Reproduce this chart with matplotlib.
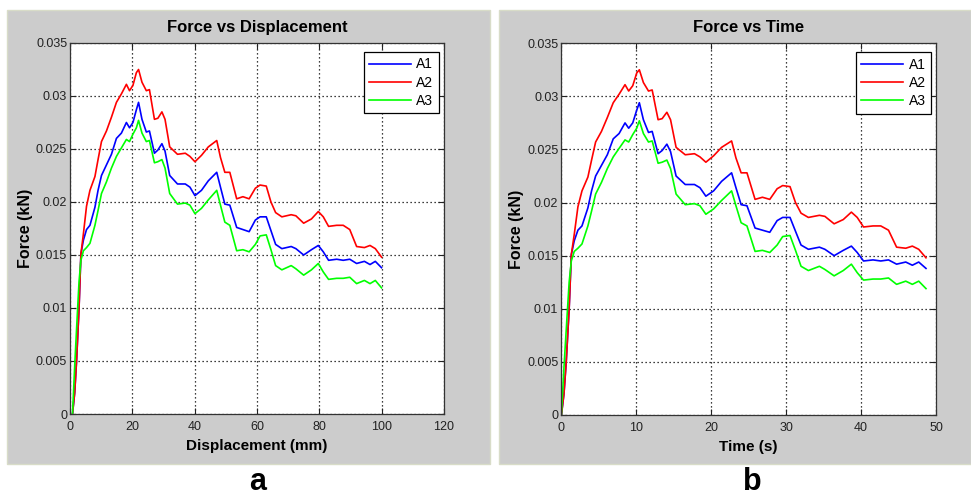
import matplotlib
matplotlib.use("Agg")
import matplotlib.pyplot as plt
from matplotlib.patches import Rectangle

DISP_MM = [0.8, 1.5, 2.1, 2.9, 3.5, 4.3, 5.3, 6.4, 8.0, 9.0, 10.1, 11.7, 13.3,
           14.9, 16.5, 18.1, 19.1, 20.2, 21.3, 22.0, 23.1, 24.5, 25.5, 27.1,
           28.2, 29.5, 30.5, 32.0, 34.5, 37.0, 38.5, 40.1, 42.2, 44.4, 47.1,
           48.3, 49.7, 51.3, 53.5, 55.5, 57.5, 59.5, 61.0, 63.0, 64.5, 66.0,
           68.0, 71.0, 72.5, 75.0, 77.5, 79.7, 81.3, 83.0, 85.6, 87.7, 89.8,
           92.0, 94.5, 96.3, 98.0, 100.0]
TIME_S = [0.05, 0.39, 0.69, 1.08, 1.37, 1.76, 2.25, 2.79, 3.58, 4.07, 4.61,
          5.39, 6.17, 6.96, 7.74, 8.53, 9.02, 9.56, 10.09, 10.44, 10.98,
          11.66, 12.15, 12.94, 13.48, 14.11, 14.60, 15.34, 16.56, 17.79,
          18.52, 19.31, 20.34, 21.41, 22.74, 23.32, 24.01, 24.79, 25.87,
          26.85, 27.83, 28.81, 29.55, 30.53, 31.26, 32.00, 32.98, 34.45,
          35.18, 36.41, 37.63, 38.71, 39.49, 40.33, 41.60, 42.63, 43.66,
          44.74, 45.96, 46.84, 47.69, 48.66]

A1 = [0, 0.002, 0.005, 0.010, 0.0151, 0.0164, 0.0174, 0.0178, 0.0195, 0.0211,
      0.0225, 0.0235, 0.0245, 0.0260, 0.0265, 0.0275, 0.0270, 0.0275, 0.0287,
      0.0294, 0.0278, 0.0266, 0.0267, 0.0246, 0.0249, 0.0255, 0.0248, 0.0225,
      0.0217, 0.0217, 0.0214, 0.0206, 0.0211, 0.0220, 0.0228, 0.0214, 0.0198,
      0.0197, 0.0176, 0.0174, 0.0172, 0.0183, 0.0186, 0.0186, 0.0173, 0.0160,
      0.0156, 0.0158, 0.0156, 0.0150, 0.0155, 0.0159, 0.0153, 0.0145, 0.0146,
      0.0145, 0.0146, 0.0142, 0.0144, 0.0141, 0.0144, 0.0138]
A2 = [0, 0.002, 0.005, 0.010, 0.0151, 0.0170, 0.0196, 0.0211, 0.0224, 0.0240,
      0.0257, 0.0267, 0.0280, 0.0294, 0.0302, 0.0311, 0.0305, 0.0310, 0.0322,
      0.0325, 0.0313, 0.0305, 0.0306, 0.0278, 0.0279, 0.0285, 0.0278, 0.0252,
      0.0245, 0.0246, 0.0243, 0.0238, 0.0244, 0.0252, 0.0258, 0.0242, 0.0228,
      0.0228, 0.0203, 0.0205, 0.0203, 0.0213, 0.0216, 0.0215, 0.0200, 0.0190,
      0.0186, 0.0188, 0.0187, 0.0180, 0.0184, 0.0191, 0.0186, 0.0177, 0.0178,
      0.0178, 0.0174, 0.0158, 0.0157, 0.0159, 0.0156, 0.0148]
A3 = [0, 0.0045, 0.008, 0.0125, 0.0145, 0.0154, 0.0157, 0.0161, 0.0178, 0.0192,
      0.0208, 0.0219, 0.0232, 0.0243, 0.0251, 0.0259, 0.0257, 0.0264, 0.0270,
      0.0277, 0.0265, 0.0257, 0.0258, 0.0237, 0.0238, 0.0240, 0.0232, 0.0208,
      0.0198, 0.0199, 0.0197, 0.0189, 0.0194, 0.0202, 0.0211, 0.0197, 0.0181,
      0.0178, 0.0154, 0.0155, 0.0153, 0.0160, 0.0168, 0.0169, 0.0155, 0.0140,
      0.0136, 0.0140, 0.0137, 0.0131, 0.0136, 0.0142, 0.0134, 0.0127, 0.0128,
      0.0128, 0.0129, 0.0123, 0.0126, 0.0123, 0.0126, 0.0119]

SERIES = ["A1", "A2", "A3"]
COLORS = ["#0000ff", "#ff0000", "#00ff00"]

YTICKS = [0, 0.005, 0.01, 0.015, 0.02, 0.025, 0.03, 0.035]
YTICK_LABELS = ["0", "0.005", "0.01", "0.015", "0.02", "0.025", "0.03", "0.035"]
XTICKS_A = [0, 20, 40, 60, 80, 100, 120]
XTICKS_B = [0, 10, 20, 30, 40, 50]

plt.rcParams["font.family"] = ["Liberation Sans", "DejaVu Sans"]

fig = plt.figure(figsize=(9.71, 4.97), dpi=100, facecolor="white")

# grey MATLAB-style figure panels, kept behind the axes
fig.patches.append(Rectangle((0.0072, 0.066), 0.4974, 0.914, transform=fig.transFigure,
                             facecolor="#cccccc", edgecolor="#d8dcc8", lw=1, zorder=-5))
fig.patches.append(Rectangle((0.514, 0.066), 0.486, 0.914, transform=fig.transFigure,
                             facecolor="#cccccc", edgecolor="#d8dcc8", lw=1, zorder=-5))

ax_a = fig.add_axes([0.0721, 0.167, 0.385, 0.7465])
ax_b = fig.add_axes([0.5778, 0.165, 0.3862, 0.748])


def style_axes(ax, xs, xticks, title, xlabel):
    for name, ys, c in zip(SERIES, [A1, A2, A3], COLORS):
        ax.plot(xs, ys, color=c, lw=1.2, label=name)
    ax.set_xlim(xticks[0], xticks[-1])
    ax.set_ylim(0, 0.035)
    ax.set_xticks(xticks)
    ax.set_yticks(YTICKS)
    ax.set_yticklabels(YTICK_LABELS)
    ax.grid(True, color="black", linestyle=(0, (1, 2.2)), lw=0.9)
    ax.tick_params(direction="in", length=4, width=0.8, top=True, right=True,
                   labelsize=9, colors="#222222")
    ax.tick_params(axis="x", pad=5)
    ax.tick_params(axis="y", pad=2)
    for s in ax.spines.values():
        s.set_color("#333333")
        s.set_linewidth(0.9)
    ax.set_title(title, fontsize=12, fontweight="bold", pad=8)
    ax.set_xlabel(xlabel, fontsize=11, fontweight="bold")
    ax.xaxis.set_label_coords(0.5, -0.068)
    ax.set_ylabel("Force (kN)", fontsize=11.5, fontweight="bold")
    ax.yaxis.set_label_coords(-0.1, 0.5)
    leg = ax.legend(loc="upper right", bbox_to_anchor=(0.987, 0.976), fontsize=10,
                    handlelength=3.0, handletextpad=0.4, borderpad=0.4,
                    labelspacing=0.3, borderaxespad=0, fancybox=False, framealpha=1)
    leg.get_frame().set_edgecolor("black")
    leg.get_frame().set_linewidth(0.9)


style_axes(ax_a, DISP_MM, XTICKS_A, "Force vs Displacement", "Displacement (mm)")
style_axes(ax_b, TIME_S, XTICKS_B, "Force vs Time", "Time (s)")

fig.text(0.265, 0.014, "a", fontsize=22, fontweight="bold", ha="center", va="baseline")
fig.text(0.775, 0.014, "b", fontsize=22, fontweight="bold", ha="center", va="baseline")

fig.savefig("out.png", dpi=100, facecolor="white")
